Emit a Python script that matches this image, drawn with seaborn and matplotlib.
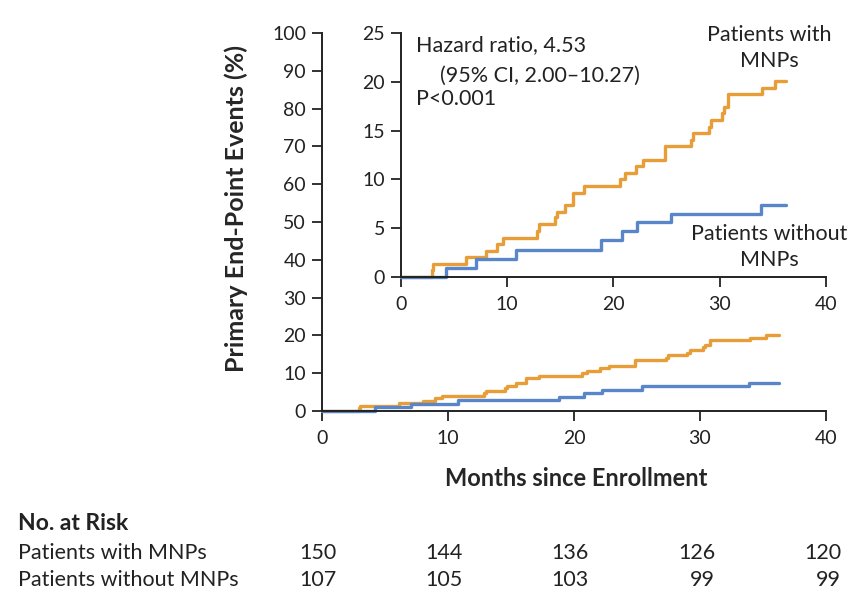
import matplotlib
matplotlib.use("Agg")
import matplotlib.pyplot as plt
import matplotlib.transforms as mtransforms
import seaborn as sns

# Cumulative incidence of the primary end point (%)
months_mnp = [0, 2.9, 3.05, 6.1, 8.05, 9.0, 9.56, 12.85, 13.0, 14.5, 14.7, 15.4,
              16.2, 17.2, 20.6, 21.05, 22.1, 22.8, 24.85, 27.3, 27.5, 29.0, 29.2,
              30.2, 30.4, 30.8, 34.0, 35.2, 36.25]
events_mnp = [0, 0.67, 1.33, 2.0, 2.67, 3.33, 4.0, 4.7, 5.4, 6.1, 6.7, 7.35,
              8.6, 9.3, 10.0, 10.7, 11.35, 12.0, 13.4, 14.0, 14.8, 15.4, 16.1,
              16.8, 17.4, 18.7, 19.4, 20.1, 20.1]

months_no_mnp = [0, 4.2, 7.1, 10.8, 18.8, 20.8, 22.2, 25.4, 33.9, 36.25]
events_no_mnp = [0, 0.93, 1.87, 2.8, 3.74, 4.7, 5.6, 6.5, 7.4, 7.4]

# Number at risk
risk_months = [0, 10, 20, 30, 40]
risk_mnp = [150, 144, 136, 126, 120]
risk_no_mnp = [107, 105, 103, 99, 99]

main_yticks = list(range(0, 101, 10))
inset_yticks = [0, 5, 10, 15, 20, 25]
xticks = [0, 10, 20, 30, 40]

orange = "#E89E38"
blue = "#5886C8"

sns.set_style("ticks")
plt.rcParams["font.family"] = ["Lato", "DejaVu Sans"]
plt.rcParams["text.color"] = "#222222"
plt.rcParams["axes.edgecolor"] = "#222222"
plt.rcParams["xtick.color"] = "#222222"
plt.rcParams["ytick.color"] = "#222222"


def style_axis(ax, yticks, ymax):
    ax.set_xlim(0, 40)
    ax.set_ylim(0, ymax)
    ax.set_xticks(xticks)
    ax.set_yticks(yticks)
    ax.tick_params(axis="both", direction="out", length=7.5, width=1.3, labelsize=14)
    ax.tick_params(axis="x", pad=6)
    ax.tick_params(axis="y", pad=4)
    for side in ("top", "right"):
        ax.spines[side].set_visible(False)
    for side in ("left", "bottom"):
        ax.spines[side].set_linewidth(1.4)
    ax.set_xlabel("")
    ax.set_ylabel("")


fig = plt.figure(figsize=(8.66, 6.02), dpi=100)

# main axes
ax = fig.add_axes([0.3718, 0.3173, 0.582, 0.6279])
sns.lineplot(x=months_mnp, y=events_mnp, drawstyle="steps-post", color=orange,
             linewidth=2.4, ax=ax, clip_on=False)
sns.lineplot(x=months_no_mnp, y=events_no_mnp, drawstyle="steps-post", color=blue,
             linewidth=2.4, ax=ax, clip_on=False)
style_axis(ax, main_yticks, 100)
ax.set_xlabel("Months since Enrollment", fontsize=17, fontweight="bold")
ax.xaxis.set_label_coords(0.504, -0.148)
ax.set_ylabel("Primary End-Point Events (%)", fontsize=18, fontweight="bold")
ax.yaxis.set_label_coords(-0.146, 0.535)

# inset axes
ins = fig.add_axes([0.463, 0.5399, 0.4907, 0.4053])
ins.patch.set_alpha(0)
sns.lineplot(x=months_mnp, y=events_mnp, drawstyle="steps-post", color=orange,
             linewidth=2.4, ax=ins, clip_on=False)
sns.lineplot(x=months_no_mnp, y=events_no_mnp, drawstyle="steps-post", color=blue,
             linewidth=2.4, ax=ins, clip_on=False)
style_axis(ins, inset_yticks, 25)

note = dict(fontsize=15.5, va="baseline")
ins.text(1.4, 23.1, "Hazard ratio, 4.53", **note)
ins.text(3.7, 20.0, "(95% CI, 2.00\u201310.27)", **note)
ins.text(1.4, 17.6, "P<0.001", **note)
ins.text(34.7, 24.2, "Patients with", ha="center", **note)
ins.text(34.7, 21.55, "MNPs", ha="center", **note)
ins.text(34.7, 3.74, "Patients without", ha="center", **note)
ins.text(34.7, 1.13, "MNPs", ha="center", **note)

# number at risk table
fig.text(0.021, 0.131, "No. at Risk", fontsize=16.5, fontweight="bold", va="center")
fig.text(0.021, 0.082, "Patients with MNPs", fontsize=15.5, va="center")
fig.text(0.021, 0.037, "Patients without MNPs", fontsize=15.5, va="center")

base = mtransforms.blended_transform_factory(ax.transData, fig.transFigure)
shifted = mtransforms.offset_copy(base, fig=fig, x=15, y=0, units="dots")
for t, a, b in zip(risk_months, risk_mnp, risk_no_mnp):
    ax.text(t, 0.082, str(a), transform=shifted, fontsize=15.5, ha="right", va="center")
    ax.text(t, 0.037, str(b), transform=shifted, fontsize=15.5, ha="right", va="center")

fig.savefig("out.png", dpi=100)
